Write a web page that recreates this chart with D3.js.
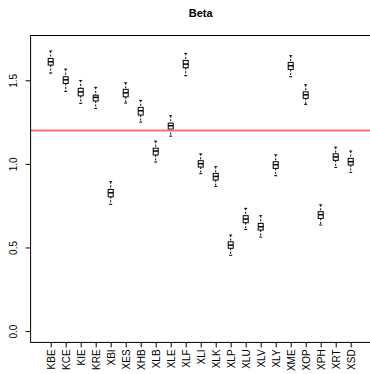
<!DOCTYPE html>
<html>
<head>
<meta charset="utf-8">
<script src="https://cdn.jsdelivr.net/npm/d3@7"></script>
<style>
  body { margin: 0; background: #fff; }
  svg { display: block; font-family: "Liberation Sans", Arial, sans-serif; }
</style>
</head>
<body>
<svg id="chart" width="370" height="374"></svg>
<script>
var categories = ["KBE","KCE","KIE","KRE","XBI","XES","XHB","XLB","XLE","XLF","XLI",
                  "XLK","XLP","XLU","XLV","XLY","XME","XOP","XPH","XRT","XSD"];
var whiskHi = [1.675,1.567,1.499,1.458,0.893,1.485,1.380,1.136,1.288,1.661,1.060,
               0.983,0.574,0.734,0.690,1.054,1.647,1.473,0.755,1.100,1.077];
var q3      = [1.631,1.521,1.452,1.411,0.847,1.446,1.338,1.094,1.244,1.619,1.019,
               0.943,0.534,0.690,0.644,1.013,1.607,1.431,0.714,1.060,1.033];
var medians = [1.611,1.503,1.431,1.398,0.827,1.425,1.318,1.077,1.228,1.597,1.001,
               0.925,0.514,0.670,0.624,0.995,1.587,1.413,0.696,1.042,1.013];
var q1      = [1.591,1.481,1.407,1.376,0.803,1.401,1.292,1.053,1.208,1.575,0.981,
               0.903,0.495,0.648,0.604,0.973,1.565,1.392,0.674,1.021,0.993];
var whiskLo = [1.543,1.434,1.362,1.332,0.758,1.364,1.250,1.011,1.166,1.527,0.941,
               0.865,0.453,0.608,0.562,0.929,1.521,1.356,0.634,0.979,0.949];
var yTicks = [0, 0.5, 1.0, 1.5];
var refLine = 1.2;

var svg = d3.select("#chart");

var x = d3.scaleLinear().domain([-0.34, 22.34]).range([30.6, 370.8]);
var y = d3.scaleLinear().domain([-0.068, 1.768]).range([342.4, 35.5]);

var boxW = 5, capW = 3;

// title
svg.append("text")
  .attr("x", 200.7).attr("y", 16.5)
  .attr("text-anchor", "middle")
  .attr("font-weight", "bold")
  .attr("font-size", 11)
  .text("Beta");

// boxes
var g = svg.selectAll(".box").data(categories)
  .enter().append("g")
  .attr("class", "box")
  .attr("transform", function(d, i){ return "translate(" + x(i + 1) + ",0)"; });

g.append("line")
  .attr("x1", 0).attr("x2", 0)
  .attr("y1", function(d, i){ return y(whiskHi[i]); })
  .attr("y2", function(d, i){ return y(q3[i]); })
  .attr("stroke", "#000").attr("stroke-dasharray", "2,1.5");
g.append("line")
  .attr("x1", 0).attr("x2", 0)
  .attr("y1", function(d, i){ return y(q1[i]); })
  .attr("y2", function(d, i){ return y(whiskLo[i]); })
  .attr("stroke", "#000").attr("stroke-dasharray", "2,1.5");
g.append("line")
  .attr("x1", -capW / 2).attr("x2", capW / 2)
  .attr("y1", function(d, i){ return y(whiskHi[i]); })
  .attr("y2", function(d, i){ return y(whiskHi[i]); })
  .attr("stroke", "#000");
g.append("line")
  .attr("x1", -capW / 2).attr("x2", capW / 2)
  .attr("y1", function(d, i){ return y(whiskLo[i]); })
  .attr("y2", function(d, i){ return y(whiskLo[i]); })
  .attr("stroke", "#000");
g.append("rect")
  .attr("x", -boxW / 2).attr("width", boxW)
  .attr("y", function(d, i){ return y(q3[i]); })
  .attr("height", function(d, i){ return y(q1[i]) - y(q3[i]); })
  .attr("fill", "#fff").attr("stroke", "#000");
g.append("line")
  .attr("x1", -boxW / 2).attr("x2", boxW / 2)
  .attr("y1", function(d, i){ return y(medians[i]); })
  .attr("y2", function(d, i){ return y(medians[i]); })
  .attr("stroke", "#000").attr("stroke-width", 1.5);

// reference line
svg.append("line")
  .attr("x1", x(-0.34)).attr("x2", x(22.34))
  .attr("y1", y(refLine)).attr("y2", y(refLine))
  .attr("stroke", "#ff7070").attr("stroke-width", 2);

// frame
svg.append("rect")
  .attr("x", x(-0.34)).attr("y", y(1.768))
  .attr("width", x(22.34) - x(-0.34))
  .attr("height", y(-0.068) - y(1.768))
  .attr("fill", "none").attr("stroke", "#000");

// y axis
var yAxis = svg.append("g")
  .attr("transform", "translate(" + x(-0.34) + ",0)")
  .call(d3.axisLeft(y).tickValues(yTicks).tickFormat(d3.format(".1f")).tickSize(5).tickPadding(0));
yAxis.select(".domain").remove();
yAxis.selectAll("text")
  .attr("font-size", 10).attr("font-family", null)
  .attr("fill", "#000")
  .attr("x", null).attr("dy", null)
  .attr("text-anchor", "middle")
  .attr("transform", "translate(-17,0) rotate(-90)")
  .attr("dy", "0.35em");

// x axis
var xAxis = svg.append("g")
  .attr("transform", "translate(0," + y(-0.068) + ")")
  .call(d3.axisBottom(x).tickValues(d3.range(1, categories.length + 1))
    .tickFormat(function(d){ return categories[d - 1]; }).tickSize(5));
xAxis.select(".domain").remove();
xAxis.selectAll("text")
  .attr("font-size", 10).attr("font-family", null)
  .attr("fill", "#000")
  .attr("y", null).attr("dy", null)
  .attr("text-anchor", "end")
  .attr("transform", "translate(0,7) rotate(-90)")
  .attr("dy", "0.35em");
</script>
</body>
</html>
